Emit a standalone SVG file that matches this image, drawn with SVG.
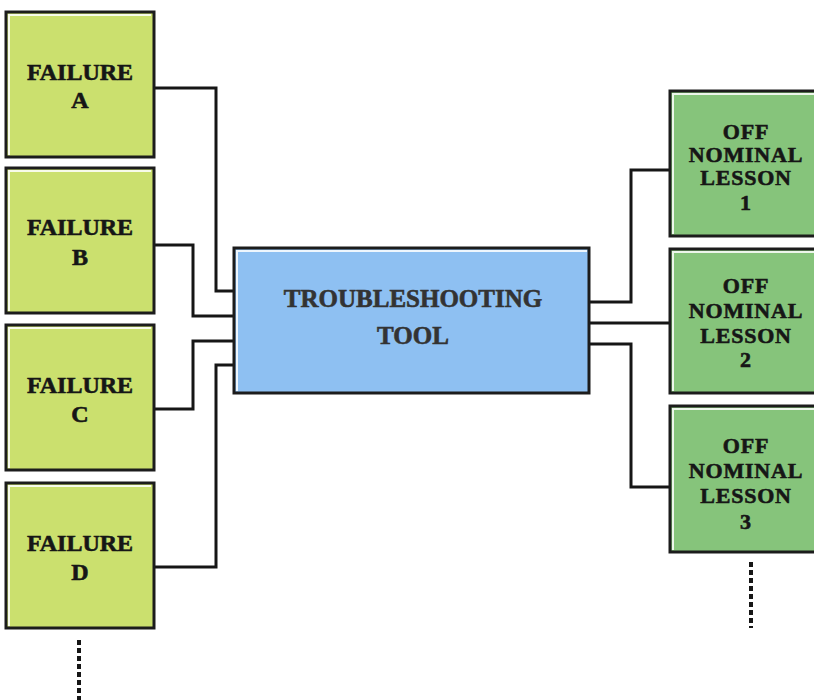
<svg xmlns="http://www.w3.org/2000/svg" width="814" height="700" viewBox="0 0 814 700">
<style>
.box{stroke:#1c1c1c;stroke-width:3}
.fail{fill:#cbe06e}
.lesson{fill:#86c47b}
.tool{fill:#8ec0f2}
.hl{fill:none;stroke:#ffffff;stroke-width:2;opacity:0.85}
.t{font-family:"Liberation Serif","Times New Roman",serif;font-weight:bold;text-anchor:middle;fill:#161616;stroke:#161616;stroke-width:0.6}
.tf{font-size:24px}
.tl{font-size:22px;letter-spacing:0.8px}
.tt{font-size:25px;fill:#333333;stroke:#333333}
.con{fill:none;stroke:#161616;stroke-width:3}
.dot{fill:none;stroke:#161616;stroke-width:4;stroke-dasharray:5 3}
</style>
<rect width="814" height="700" fill="#ffffff"/>
<g id="connectors">
<polyline class="con" points="155,88 216,88 216,291 235,291"/>
<polyline class="con" points="155,245 193,245 193,316 235,316"/>
<polyline class="con" points="155,409 193,409 193,341 235,341"/>
<polyline class="con" points="155,567 216,567 216,365 235,365"/>
<polyline class="con" points="589,302 631,302 631,170 670,170"/>
<polyline class="con" points="589,323 670,323"/>
<polyline class="con" points="589,344 631,344 631,487 670,487"/>
<line class="dot" x1="751" y1="562" x2="751" y2="628"/>
<line class="dot" x1="79" y1="640" x2="79" y2="700"/>
</g>
<g id="failureA">
<rect class="box fail" x="6" y="12" width="148" height="145"/>
<polyline class="hl" points="9,155 9,15 151,15"/>
<text class="t tf" x="80" y="80">FAILURE</text>
<text class="t tf" x="80" y="108">A</text>
</g>
<g id="failureB">
<rect class="box fail" x="6" y="168" width="148" height="145"/>
<polyline class="hl" points="9,311 9,171 151,171"/>
<text class="t tf" x="80" y="235">FAILURE</text>
<text class="t tf" x="80" y="265">B</text>
</g>
<g id="failureC">
<rect class="box fail" x="6" y="325" width="148" height="145"/>
<polyline class="hl" points="9,468 9,328 151,328"/>
<text class="t tf" x="80" y="393">FAILURE</text>
<text class="t tf" x="80" y="422">C</text>
</g>
<g id="failureD">
<rect class="box fail" x="6" y="483" width="148" height="145"/>
<polyline class="hl" points="9,626 9,486 151,486"/>
<text class="t tf" x="80" y="551">FAILURE</text>
<text class="t tf" x="80" y="580">D</text>
</g>
<g id="tool">
<rect class="box tool" x="234" y="248" width="355" height="145"/>
<polyline class="hl" points="237,391 237,251 587,251"/>
<text class="t tt" x="413" y="307">TROUBLESHOOTING</text>
<text class="t tt" x="413" y="344">TOOL</text>
</g>
<g id="lesson1">
<rect class="box lesson" x="670" y="91" width="154" height="145"/>
<polyline class="hl" points="673,234 673,94 814,94"/>
<text class="t tl" x="746" y="139">OFF</text>
<text class="t tl" x="746" y="162">NOMINAL</text>
<text class="t tl" x="746" y="185">LESSON</text>
<text class="t tl" x="746" y="210">1</text>
</g>
<g id="lesson2">
<rect class="box lesson" x="670" y="249" width="154" height="144"/>
<polyline class="hl" points="673,391 673,252 814,252"/>
<text class="t tl" x="746" y="293">OFF</text>
<text class="t tl" x="746" y="318">NOMINAL</text>
<text class="t tl" x="746" y="343">LESSON</text>
<text class="t tl" x="746" y="367">2</text>
</g>
<g id="lesson3">
<rect class="box lesson" x="670" y="406" width="154" height="146"/>
<polyline class="hl" points="673,550 673,409 814,409"/>
<text class="t tl" x="746" y="453">OFF</text>
<text class="t tl" x="746" y="478">NOMINAL</text>
<text class="t tl" x="746" y="503">LESSON</text>
<text class="t tl" x="746" y="529">3</text>
</g>
</svg>
